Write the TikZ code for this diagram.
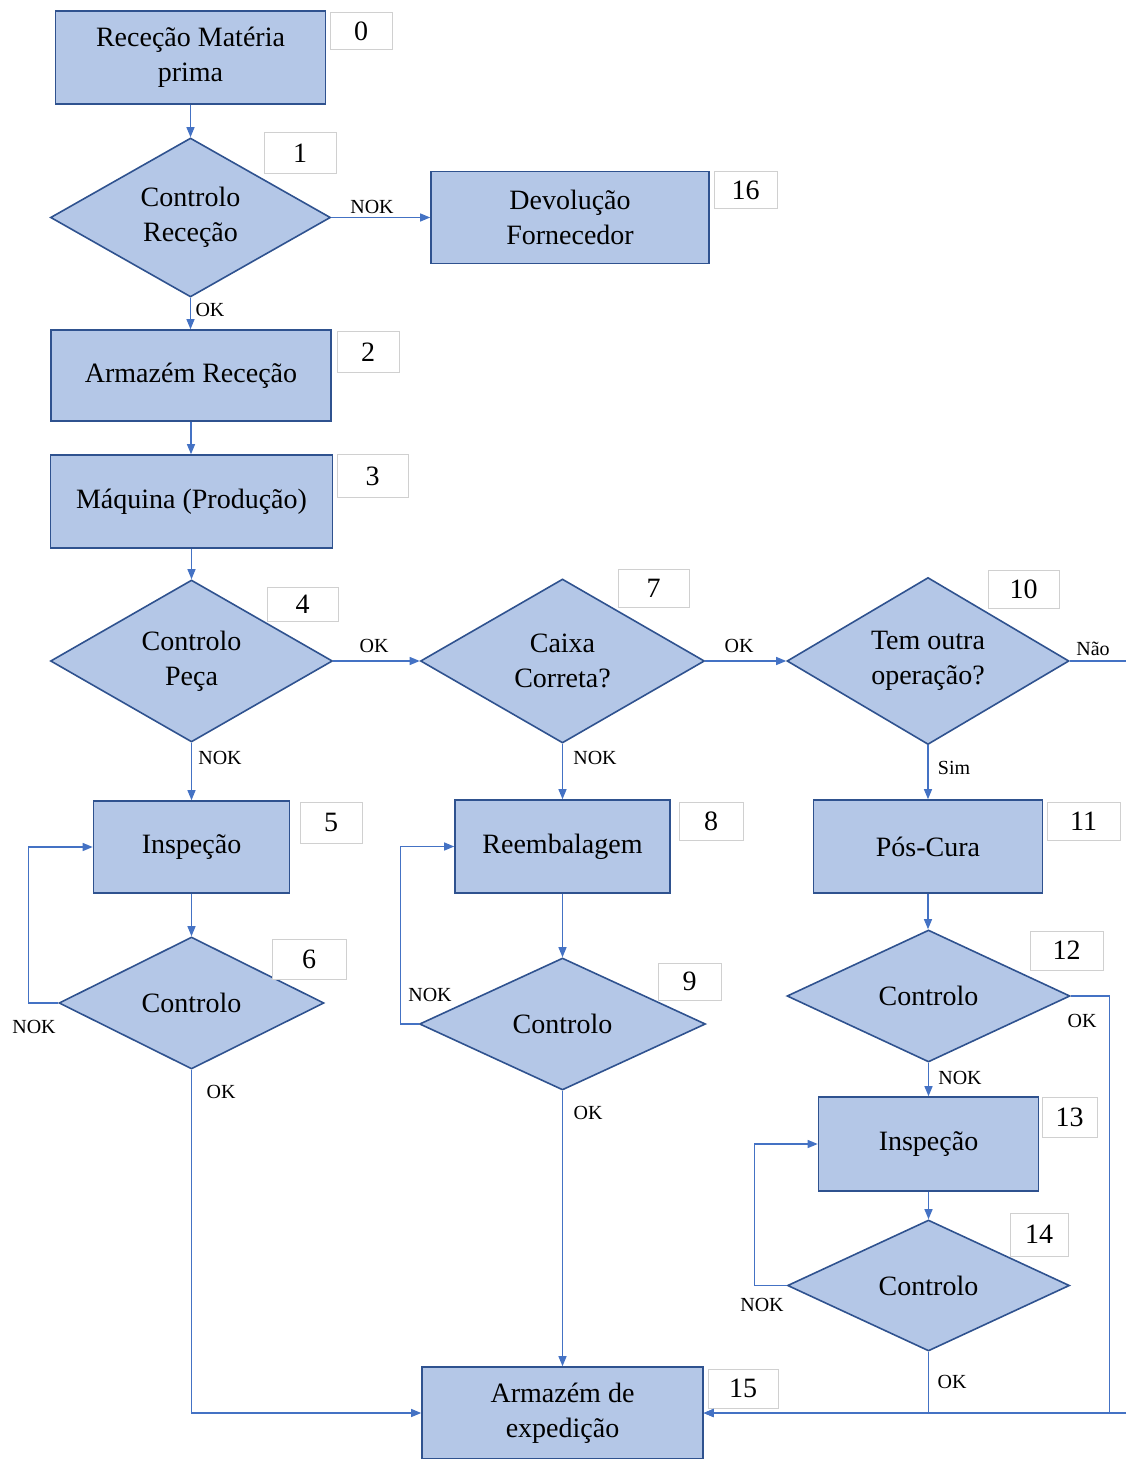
\documentclass[tikz,border=0pt]{standalone}
\usepackage{fontspec}
\setmainfont{Liberation Serif}
\usetikzlibrary{shapes.geometric,arrows.meta}
\definecolor{boxfill}{HTML}{B4C7E7}
\definecolor{boxdraw}{HTML}{2F528F}
\definecolor{conn}{HTML}{4472C4}
\definecolor{numdraw}{HTML}{D0D0D0}
\begin{document}
\begin{tikzpicture}[x=0.5pt,y=-0.5pt,
  proc/.style={rectangle, draw=boxdraw, fill=boxfill, line width=0.8pt, align=center,
    font=\fontsize{14}{17.5}\selectfont, inner sep=0pt},
  dec/.style={diamond, aspect=1.76, draw=boxdraw, fill=boxfill, line width=0.8pt, align=center,
    font=\fontsize{14}{17.5}\selectfont, inner sep=0pt},
  num/.style={rectangle, draw=numdraw, fill=white, line width=0.5pt,
    font=\fontsize{14}{17}\selectfont, inner sep=0pt},
  lbl/.style={font=\fontsize{10}{12}\selectfont, inner sep=1pt},
  arr/.style={draw=conn, line width=0.6pt, -{Triangle[length=5pt,width=4pt]}},
  ln/.style={draw=conn, line width=0.6pt}]
\useasboundingbox (0,0) rectangle (1126,1459);
% process boxes
\node[proc, minimum width=135pt, minimum height=46.5pt] (n0) at (190.5,57.5) {Receção Matéria\\prima};
\node[proc, minimum width=139pt, minimum height=46pt] (n16) at (570,217.5) {Devolução\\Fornecedor};
\node[proc, minimum width=140pt, minimum height=45.5pt] (n2) at (191,375.5) {Armazém Receção};
\node[proc, minimum width=141pt, minimum height=46.5pt] (n3) at (191.5,501.5) {Máquina (Produção)};
\node[proc, minimum width=98pt, minimum height=46pt] (n5) at (191.5,847) {Inspeção};
\node[proc, minimum width=107.5pt, minimum height=46.5pt] (n8) at (562.5,846.5) {Reembalagem};
\node[proc, minimum width=114.5pt, minimum height=46.5pt] (n11) at (928,846.5) {Pós-Cura};
\node[proc, minimum width=110pt, minimum height=47pt] (n13) at (928.5,1144) {Inspeção};
\node[proc, minimum width=140.5pt, minimum height=46pt] (n15) at (562.5,1413) {Armazém de\\expedição};
% decisions
\node[dec, minimum width=140pt, minimum height=79.5pt] (d1) at (190.5,217.5) {Controlo\\Receção};
\node[dec, minimum width=141pt, minimum height=81pt] (d4) at (191.5,661) {Controlo\\Peça};
\node[dec, minimum width=142pt, minimum height=82pt] (d7) at (562.5,661) {Caixa\\Correta?};
\node[dec, minimum width=141pt, minimum height=83.5pt] (d10) at (928,661) {Tem outra\\operação?};
\node[dec, minimum width=132.5pt, minimum height=66pt] (d6) at (191.5,1003) {Controlo};
\node[dec, minimum width=143pt, minimum height=66pt] (d9) at (562.5,1024) {Controlo};
\node[dec, minimum width=141.5pt, minimum height=66pt] (d12) at (928.5,996) {Controlo};
\node[dec, minimum width=141pt, minimum height=65.5pt] (d14) at (928.5,1285.5) {Controlo};
% number boxes
\node[num, minimum width=31pt, minimum height=18.5pt] (b0) at (361,31.5) {0};
\node[num, minimum width=36pt, minimum height=20.5pt] (b1) at (300,153.5) {1};
\node[num, minimum width=31.5pt, minimum height=18.5pt] (b16) at (745.5,190.5) {16};
\node[num, minimum width=31pt, minimum height=20.5pt] (b2) at (368,352.5) {2};
\node[num, minimum width=35.5pt, minimum height=21.5pt] (b3) at (372.5,476.5) {3};
\node[num, minimum width=35.5pt, minimum height=17pt] (b4) at (302.5,604) {4};
\node[num, minimum width=35.5pt, minimum height=19pt] (b7) at (653.5,588) {7};
\node[num, minimum width=35.5pt, minimum height=19pt] (b10) at (1023.5,589) {10};
\node[num, minimum width=31pt, minimum height=20.5pt] (b5) at (331,822.5) {5};
\node[num, minimum width=32pt, minimum height=19pt] (b8) at (711,821) {8};
\node[num, minimum width=36.5pt, minimum height=19pt] (b11) at (1083.5,821) {11};
\node[num, minimum width=37pt, minimum height=20pt] (b6) at (309,959) {6};
\node[num, minimum width=31.5pt, minimum height=18.5pt] (b9) at (689.5,981.5) {9};
\node[num, minimum width=36.5pt, minimum height=19.5pt] (b12) at (1066.5,950.5) {12};
\node[num, minimum width=27.5pt, minimum height=20pt] (b13) at (1069.5,1117) {13};
\node[num, minimum width=29pt, minimum height=21.5pt] (b14) at (1039,1234.5) {14};
\node[num, minimum width=35pt, minimum height=19.5pt] (b15) at (743,1388.5) {15};
% connectors
\draw[arr] (n0.south) -- (d1.north);
\draw[arr] (d1.east) -- (n16.west);
\draw[arr] (d1.south) -- (d1.south |- n2.north);
\draw[arr] (n2.south) -- (n2.south |- n3.north);
\draw[arr] (n3.south) -- (d4.north);
\draw[arr] (d4.east) -- (d7.west);
\draw[arr] (d7.east) -- (d10.west);
\coordinate (rout) at (1126,661);
\draw[ln] (d10.east) -- (rout);
\draw[arr] (d4.south) -- (n5.north);
\draw[arr] (d7.south) -- (n8.north);
\draw[arr] (d10.south) -- (n11.north);
\draw[arr] (n5.south) -- (d6.north);
\draw[arr] (n8.south) -- (d9.north);
\draw[arr] (n11.south) -- (n11.south |- d12.north);
\draw[arr] (d6.west) -- ++(-30,0) |- (n5.west);
\draw[arr] (d9.west) -- ++(-18,0) |- (n8.west);
\draw[arr] (d12.south) -- (n13.north);
\draw[arr] (n13.south) -- (d14.north);
\draw[arr] (d14.west) -- ++(-32,0) |- (n13.west);
\draw[arr] (d6.south) |- (n15.west);
\draw[arr] (d9.south) -- (n15.north);
\draw[arr] (d14.south) |- (n15.east);
\draw[arr] (d12.east) -- ++(39,0) |- (n15.east);
\coordinate (rin) at (1126,1413);
\draw[arr] (rin) -- (n15.east);
% labels
\node[lbl] (l1) at (372,207) {NOK};
\node[lbl] (l2) at (210,310) {OK};
\node[lbl] (l3) at (374,646) {OK};
\node[lbl] (l4) at (739,646) {OK};
\node[lbl] (l5) at (1093,649) {Não};
\node[lbl] (l6) at (220,758) {NOK};
\node[lbl] (l7) at (595,758) {NOK};
\node[lbl] (l8) at (954,768) {Sim};
\node[lbl] (l9) at (34,1027) {NOK};
\node[lbl] (l10) at (221,1092) {OK};
\node[lbl] (l11) at (430,995) {NOK};
\node[lbl] (l12) at (588,1113) {OK};
\node[lbl] (l13) at (1082,1021) {OK};
\node[lbl] (l14) at (960,1078) {NOK};
\node[lbl] (l15) at (762,1305) {NOK};
\node[lbl] (l16) at (952,1382) {OK};
\end{tikzpicture}
\end{document}
